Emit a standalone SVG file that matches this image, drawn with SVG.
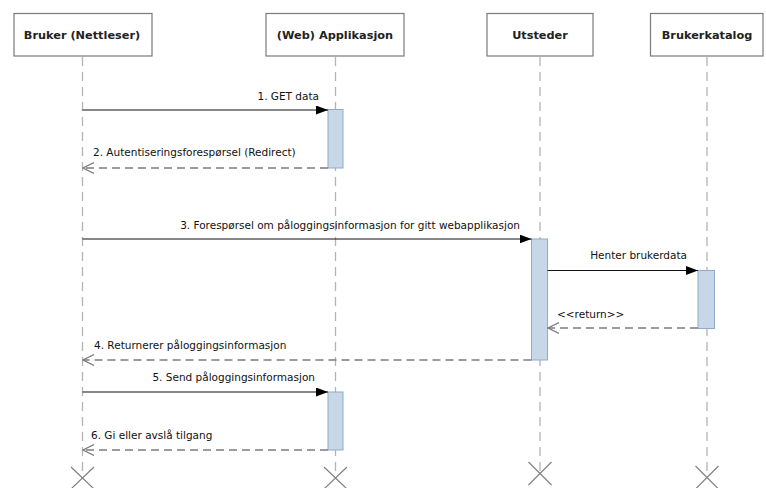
<svg xmlns="http://www.w3.org/2000/svg" width="766" height="488" viewBox="0 0 766 488">
  <style>
    .head { fill: #ffffff; stroke: #7a7a7a; stroke-width: 1.2; }
    .head-label { font-family: "DejaVu Sans", "Liberation Sans", sans-serif; font-size: 11.3px; font-weight: bold; fill: #222; text-anchor: middle; }
    .lifeline { stroke: #b4b4b4; stroke-width: 1.3; stroke-dasharray: 9 6; fill: none; }
    .act { fill: #c8d7e8; stroke: #8eaccb; stroke-width: 1; }
    .call { stroke: #111; stroke-width: 1.2; fill: none; marker-end: url(#filled); }
    .reply { stroke: #7c7c7c; stroke-width: 1.3; stroke-dasharray: 8 5; fill: none; marker-end: url(#open); }
    .msg { font-family: "DejaVu Sans", "Liberation Sans", sans-serif; font-size: 10.5px; fill: #111; }
    .end { stroke: #808080; stroke-width: 1.2; fill: none; }
  </style>
  <defs>
    <marker id="filled" markerUnits="userSpaceOnUse" markerWidth="13" markerHeight="10" refX="12" refY="4.5" orient="auto">
      <path d="M0,0 L12,4.5 L0,9 Z" fill="#000"/>
    </marker>
    <marker id="open" markerUnits="userSpaceOnUse" markerWidth="12" markerHeight="12" refX="11" refY="5.5" orient="auto">
      <path d="M0,0 L11,5.5 L0,11" fill="none" stroke="#7c7c7c" stroke-width="1.2"/>
    </marker>
  </defs>

  <rect width="766" height="488" fill="#ffffff"/>

  <!-- lifelines with end markers -->
  <g id="lifelines">
    <line class="lifeline" x1="82.5" y1="57" x2="82.5" y2="476"/>
    <line class="lifeline" x1="335.5" y1="57" x2="335.5" y2="476"/>
    <line class="lifeline" x1="540" y1="57" x2="540" y2="472"/>
    <line class="lifeline" x1="707" y1="57" x2="707" y2="476"/>
    <path class="end" d="M71,467 L94,489 M94,467 L71,489"/>
    <path class="end" d="M324,467 L347,489 M347,467 L324,489"/>
    <path class="end" d="M528.5,462 L551.5,485 M551.5,462 L528.5,485"/>
    <path class="end" d="M695.5,466 L718.5,489 M718.5,466 L695.5,489"/>
  </g>

  <!-- participants -->
  <g id="bruker">
    <rect class="head" x="14" y="13.5" width="138" height="42.5"/>
    <text class="head-label" x="82" y="39">Bruker (Nettleser)</text>
  </g>
  <g id="applikasjon">
    <rect class="head" x="266" y="13.5" width="138" height="42.5"/>
    <text class="head-label" x="335" y="39">(Web) Applikasjon</text>
  </g>
  <g id="utsteder">
    <rect class="head" x="487" y="13.5" width="106" height="42.5"/>
    <text class="head-label" x="540" y="39">Utsteder</text>
  </g>
  <g id="brukerkatalog">
    <rect class="head" x="650.5" y="13.5" width="112.5" height="42.5"/>
    <text class="head-label" x="707" y="39">Brukerkatalog</text>
  </g>

  <!-- activation bars -->
  <g id="activations">
    <rect class="act" x="328" y="109.5" width="15" height="58.5"/>
    <rect class="act" x="531.5" y="239" width="16" height="121"/>
    <rect class="act" x="698" y="270.5" width="16.5" height="58"/>
    <rect class="act" x="328" y="392" width="15" height="58"/>
  </g>

  <!-- messages -->
  <g id="connectors">
    <line class="call" x1="82.5" y1="110" x2="328" y2="110"/>
    <line class="reply" x1="328" y1="168" x2="83" y2="168"/>
    <line class="call" x1="82.5" y1="239" x2="531.5" y2="239"/>
    <line class="call" x1="547.5" y1="270.5" x2="698" y2="270.5"/>
    <line class="reply" x1="698" y1="328" x2="548" y2="328"/>
    <line class="reply" x1="531.5" y1="360" x2="83" y2="360"/>
    <line class="call" x1="82.5" y1="392" x2="328" y2="392"/>
    <line class="reply" x1="328" y1="450" x2="83" y2="450"/>
  </g>

  <g id="labels">
    <text class="msg" x="319" y="100" text-anchor="end">1. GET data</text>
    <text class="msg" x="93" y="156">2. Autentiseringsforespørsel (Redirect)</text>
    <text class="msg" x="520" y="229" text-anchor="end">3. Forespørsel om påloggingsinformasjon for gitt webapplikasjon</text>
    <text class="msg" x="687" y="259" text-anchor="end">Henter brukerdata</text>
    <text class="msg" x="557" y="318">&lt;&lt;return&gt;&gt;</text>
    <text class="msg" x="94" y="349">4. Returnerer påloggingsinformasjon</text>
    <text class="msg" x="315" y="381" text-anchor="end">5. Send påloggingsinformasjon</text>
    <text class="msg" x="91" y="439">6. Gi eller avslå tilgang</text>
  </g>
</svg>
